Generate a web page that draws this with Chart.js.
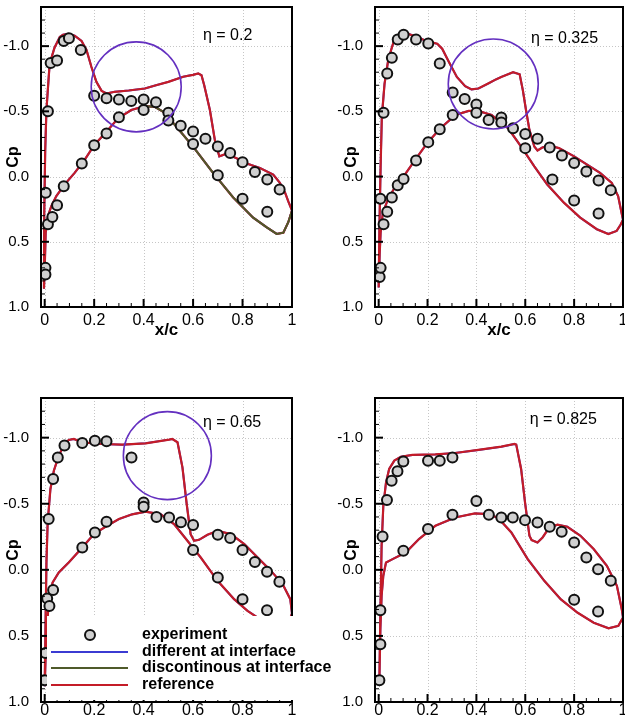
<!DOCTYPE html>
<html>
<head>
<meta charset="utf-8">
<script src="https://cdn.jsdelivr.net/npm/chart.js@4.4.0/dist/chart.umd.min.js"></script>
<style>
  html, body { margin: 0; padding: 0; background: #fff; }
  body { width: 625px; height: 717px; overflow: hidden; position: relative; }
  canvas { position: absolute; }
</style>
</head>
<body>
<canvas id="p1" width="300" height="345" style="left:0;top:0"></canvas>
<canvas id="p2" width="300" height="345" style="left:330px;top:0"></canvas>
<canvas id="p4" width="300" height="332" style="left:330px;top:385px"></canvas>
<canvas id="p3" width="340" height="332" style="left:0;top:385px"></canvas>
<script>
// axis ticks
const xTicks = [0, 0.2, 0.4, 0.6, 0.8, 1];
const xTickLabels = ['0', '0.2', '0.4', '0.6', '0.8', '1'];
const cpTicks = [-1, -0.5, 0, 0.5, 1];
const cpTickLabels = ['-1.0', '-0.5', '0.0', '0.5', '1.0'];

// eta = 0.2  [x/c, Cp]
const exp02 = [[0.003,0.70],[0.003,0.75],[0.004,0.124],[0.013,-0.50],[0.013,0.366],[0.031,0.31],[0.024,-0.87],
  [0.05,-0.89],[0.05,0.22],[0.077,0.074],[0.077,-1.04],[0.098,-1.06],[0.146,-0.97],[0.15,-0.10],[0.2,-0.62],
  [0.2,-0.24],[0.25,-0.60],[0.25,-0.33],[0.3,-0.59],[0.3,-0.455],[0.35,-0.58],[0.4,-0.59],[0.4,-0.51],
  [0.45,-0.57],[0.5,-0.49],[0.5,-0.43],[0.55,-0.39],[0.6,-0.345],[0.6,-0.25],[0.65,-0.29],[0.7,-0.23],
  [0.7,-0.01],[0.75,-0.18],[0.8,-0.11],[0.8,0.17],[0.85,-0.035],[0.9,0.023],[0.9,0.27],[0.95,0.10]];
const ref02 = [[1.0,0.26],[0.985,0.19],[0.972,0.124],[0.951,0.048],[0.924,-0.015],[0.87,-0.066],[0.817,-0.10],
  [0.776,-0.14],[0.735,-0.175],[0.706,-0.155],[0.688,-0.28],[0.668,-0.51],[0.645,-0.70],[0.634,-0.777],
  [0.621,-0.79],[0.60,-0.78],[0.56,-0.765],[0.5,-0.726],[0.45,-0.70],[0.405,-0.675],[0.34,-0.66],[0.283,-0.65],
  [0.25,-0.637],[0.23,-0.657],[0.209,-0.726],[0.189,-0.84],[0.169,-0.97],[0.149,-1.04],[0.121,-1.08],
  [0.095,-1.094],[0.074,-1.087],[0.061,-1.07],[0.04,-0.99],[0.02,-0.866],[0.0135,-0.69],[0.007,-0.51],
  [0.002,-0.2],[-0.002,0.3],[-0.003,0.86],
  [0.0,0.7],[0.004,0.43],[0.0135,0.30],[0.027,0.226],[0.047,0.15],[0.081,0.06],[0.121,-0.028],[0.162,-0.13],
  [0.2,-0.24],[0.25,-0.345],[0.297,-0.447],[0.35,-0.51],[0.405,-0.54],[0.445,-0.535],[0.479,-0.497],
  [0.52,-0.41],[0.60,-0.23],[0.68,-0.03],[0.762,0.16],[0.843,0.315],[0.898,0.39],[0.938,0.44],[0.965,0.43],
  [0.985,0.35],[1.0,0.26]];
const disc02 = [[0.405,-0.54],[0.445,-0.535],[0.479,-0.497],[0.52,-0.41],[0.60,-0.23],[0.68,-0.03],[0.762,0.16],
  [0.843,0.315],[0.898,0.39],[0.938,0.44],[0.965,0.43],[0.985,0.35],[1.0,0.26]];

// eta = 0.325
const exp0325 = [[0.004,0.77],[0.008,0.70],[0.007,0.17],[0.02,0.366],[0.02,-0.49],[0.035,0.27],[0.035,-0.79],
  [0.054,0.16],[0.054,-0.91],[0.078,0.066],[0.078,-1.05],[0.102,0.018],[0.102,-1.087],[0.153,-1.05],
  [0.153,-0.124],[0.203,-1.02],[0.203,-0.264],[0.25,-0.866],[0.25,-0.363],[0.303,-0.645],[0.303,-0.472],
  [0.352,-0.594],[0.40,-0.553],[0.40,-0.49],[0.45,-0.434],[0.502,-0.452],[0.502,-0.414],[0.55,-0.37],
  [0.60,-0.327],[0.60,-0.218],[0.65,-0.29],[0.70,-0.223],[0.711,0.023],[0.75,-0.162],[0.80,-0.104],
  [0.80,0.183],[0.85,-0.038],[0.90,0.03],[0.90,0.284],[0.95,0.104]];
const ref0325 = [[1.0,0.33],[0.994,0.277],[0.98,0.15],[0.954,0.048],[0.906,-0.028],[0.853,-0.091],[0.80,-0.155],
  [0.738,-0.218],[0.698,-0.238],[0.67,-0.223],[0.65,-0.2],[0.637,-0.23],[0.617,-0.358],[0.603,-0.51],
  [0.59,-0.663],[0.577,-0.784],[0.55,-0.80],[0.502,-0.764],[0.48,-0.745],[0.45,-0.715],[0.408,-0.675],
  [0.38,-0.668],[0.354,-0.693],[0.32,-0.764],[0.287,-0.88],[0.26,-0.98],[0.24,-1.018],[0.2,-1.036],
  [0.152,-1.074],[0.112,-1.10],[0.085,-1.094],[0.065,-1.056],[0.051,-0.97],[0.038,-0.88],[0.024,-0.71],
  [0.013,-0.46],[0.008,-0.08],[0.003,0.4],[0.0,0.85],
  [0.004,0.6],[0.008,0.43],[0.017,0.277],[0.038,0.175],[0.065,0.086],[0.098,0.01],[0.152,-0.135],[0.2,-0.26],
  [0.253,-0.37],[0.314,-0.472],[0.368,-0.503],[0.408,-0.503],[0.462,-0.472],[0.53,-0.37],[0.583,-0.23],
  [0.637,-0.078],[0.69,0.061],[0.758,0.2],[0.825,0.315],[0.893,0.404],[0.94,0.44],[0.974,0.417],[0.99,0.37],
  [1.0,0.33]];

// eta = 0.65
const exp065 = [[0.0,0.836],[0.003,0.63],[0.01,0.217],[0.019,0.273],[0.016,-0.384],[0.034,0.152],[0.034,-0.687],
  [0.053,-0.85],[0.08,-0.94],[0.152,-0.96],[0.152,-0.169],[0.203,-0.977],[0.203,-0.283],[0.25,-0.972],
  [0.25,-0.364],[0.351,-0.85],[0.40,-0.51],[0.40,-0.477],[0.452,-0.40],[0.503,-0.396],[0.551,-0.36],
  [0.60,-0.34],[0.60,-0.15],[0.70,-0.265],[0.70,0.058],[0.75,-0.24],[0.80,-0.15],[0.80,0.222],[0.85,-0.06],
  [0.899,0.015],[0.899,0.305],[0.949,0.09]];
const ref065 = [[1.0,0.33],[0.993,0.222],[0.962,0.108],[0.915,0.008],[0.861,-0.093],[0.807,-0.195],[0.753,-0.27],
  [0.699,-0.295],[0.658,-0.265],[0.624,-0.227],[0.604,-0.22],[0.59,-0.27],[0.574,-0.50],[0.557,-0.775],
  [0.537,-0.965],[0.516,-0.99],[0.503,-0.985],[0.408,-0.957],[0.314,-0.947],[0.233,-0.952],[0.152,-0.964],
  [0.118,-0.99],[0.097,-0.983],[0.077,-0.94],[0.057,-0.864],[0.037,-0.75],[0.023,-0.61],[0.012,-0.36],
  [0.007,-0.056],[0.003,0.45],[0.0,0.88],
  [0.003,0.70],[0.01,0.4],[0.019,0.197],[0.032,0.096],[0.057,0.02],[0.097,-0.055],[0.152,-0.169],[0.199,-0.27],
  [0.246,-0.326],[0.30,-0.384],[0.354,-0.42],[0.408,-0.44],[0.469,-0.42],[0.523,-0.346],[0.577,-0.22],
  [0.631,-0.093],[0.699,0.083],[0.766,0.222],[0.82,0.31],[0.867,0.369],[0.92,0.42],[0.96,0.43],[0.99,0.38],
  [1.0,0.33]];

// eta = 0.825
const exp0825 = [[0.003,0.836],[0.007,0.563],[0.007,0.305],[0.016,-0.252],[0.034,-0.528],[0.053,-0.674],
  [0.077,-0.745],[0.101,-0.82],[0.101,-0.144],[0.202,-0.826],[0.202,-0.308],[0.25,-0.826],[0.302,-0.85],
  [0.302,-0.417],[0.40,-0.52],[0.451,-0.417],[0.502,-0.396],[0.549,-0.396],[0.599,-0.376],[0.65,-0.358],
  [0.70,-0.326],[0.749,-0.288],[0.80,-0.207],[0.80,0.227],[0.85,-0.093],[0.898,-0.005],[0.898,0.316],
  [0.95,0.083]];
const ref0825 = [[1.0,0.36],[0.995,0.298],[0.975,0.121],[0.934,-0.03],[0.88,-0.157],[0.826,-0.258],[0.772,-0.326],
  [0.732,-0.341],[0.698,-0.32],[0.671,-0.245],[0.65,-0.207],[0.626,-0.225],[0.617,-0.258],[0.599,-0.51],
  [0.583,-0.763],[0.563,-0.947],[0.556,-0.952],[0.502,-0.932],[0.408,-0.907],[0.313,-0.884],[0.232,-0.873],
  [0.138,-0.869],[0.091,-0.856],[0.064,-0.826],[0.043,-0.763],[0.03,-0.66],[0.019,-0.485],[0.012,-0.18],
  [0.007,0.323],[0.003,0.83],
  [0.007,0.45],[0.012,0.197],[0.019,0.045],[0.03,-0.055],[0.057,-0.081],[0.111,-0.131],[0.165,-0.233],
  [0.232,-0.333],[0.313,-0.396],[0.394,-0.427],[0.448,-0.422],[0.489,-0.392],[0.543,-0.283],[0.61,-0.081],
  [0.678,0.083],[0.745,0.222],[0.813,0.323],[0.88,0.40],[0.941,0.442],[0.981,0.424],[1.0,0.36]];

const RED = '#c41c28', OLIVE = '#4f5a2a', BLUE = '#3b3bd2', RING = '#6430c0';
const FONT = '"Liberation Sans", Arial, Helvetica, sans-serif';
Chart.defaults.font.family = FONT;
Chart.defaults.color = '#000';

const pts = arr => arr.map(([x, y]) => ({ x, y }));

// grid, frame, inward ticks, eta label, highlight ring and legend box
const decor = {
  id: 'decor',
  beforeDatasetsDraw(chart, args, o) {
    const { ctx, chartArea: a, scales: { x, y } } = chart;
    ctx.save();
    ctx.strokeStyle = '#c6c6c6';
    ctx.lineWidth = 1;
    ctx.setLineDash([1, 2]);
    ctx.beginPath();
    xTicks.forEach(v => {
      const px = Math.round(x.getPixelForValue(v)) + 0.5;
      ctx.moveTo(px, a.top); ctx.lineTo(px, a.bottom);
    });
    cpTicks.forEach(v => {
      const py = Math.round(y.getPixelForValue(v)) + 0.5;
      ctx.moveTo(a.left, py); ctx.lineTo(a.right, py);
    });
    ctx.stroke();
    ctx.restore();
  },
  afterDatasetsDraw(chart, args, o) {
    const { ctx, chartArea: a, scales: { x, y } } = chart;
    ctx.save();
    if (o.ring) {
      ctx.strokeStyle = RING;
      ctx.lineWidth = 1.6;
      ctx.beginPath();
      ctx.arc(x.getPixelForValue(o.ring.x), y.getPixelForValue(o.ring.cp), o.ring.r, 0, Math.PI * 2);
      ctx.stroke();
    }
    // minor / major ticks, pointing into the plot
    ctx.strokeStyle = '#000';
    const tick = (x0, y0, x1, y1, w) => {
      ctx.lineWidth = w;
      ctx.beginPath(); ctx.moveTo(x0, y0); ctx.lineTo(x1, y1); ctx.stroke();
    };
    for (let i = 0; i <= 20; i++) {
      const px = x.getPixelForValue(i / 20);
      if (i % 4 === 0) tick(px, a.bottom, px, a.bottom - 8, 2);
      else tick(px, a.bottom, px, a.bottom - 4, 1);
    }
    for (let i = -13; i <= 10; i++) {
      const py = y.getPixelForValue(i / 10);
      if (i % 5 === 0) tick(a.left, py, a.left + 8, py, 2);
      else tick(a.left, py, a.left + 4, py, 1);
    }
    ctx.lineWidth = 2;
    ctx.strokeRect(a.left, a.top, a.right - a.left, a.bottom - a.top);

    ctx.fillStyle = '#000';
    ctx.font = '16px ' + FONT;
    ctx.textAlign = 'left';
    ctx.textBaseline = 'middle';
    ctx.fillText(o.eta, x.getPixelForValue(o.etaAt[0]), y.getPixelForValue(o.etaAt[1]));

    if (o.legend) {
      const L = o.legend;
      ctx.fillStyle = '#fff';
      ctx.fillRect(L.left, L.top, L.right - L.left, L.bottom - L.top);
      const rows = [L.top + 19, L.top + 36, L.top + 52, L.top + 69];
      ctx.beginPath();
      ctx.arc(L.left + 43, rows[0], 5, 0, Math.PI * 2);
      ctx.fillStyle = '#d0d0d0'; ctx.fill();
      ctx.lineWidth = 2; ctx.strokeStyle = '#111'; ctx.stroke();
      [BLUE, OLIVE, RED].forEach((c, i) => {
        ctx.strokeStyle = c;
        ctx.lineWidth = 2;
        ctx.beginPath();
        ctx.moveTo(L.left + 4, rows[i + 1]);
        ctx.lineTo(L.left + 81, rows[i + 1]);
        ctx.stroke();
      });
      ctx.fillStyle = '#000';
      ctx.font = 'bold 16px ' + FONT;
      ['experiment', 'different at interface', 'discontinous at interface', 'reference']
        .forEach((t, i) => ctx.fillText(t, L.left + 95, rows[i]));
    }
    ctx.restore();
  }
};

function drawPanel(id, p) {
  const datasets = [
    { label: 'experiment', data: pts(p.exp), showLine: false, pointRadius: 5,
      pointBackgroundColor: '#d0d0d0', pointBorderColor: '#111', pointBorderWidth: 2 }
  ];
  if (p.disc) {
    datasets.push({ label: 'discontinous at interface', data: pts(p.disc), showLine: true,
      pointRadius: 0, borderColor: OLIVE, borderWidth: 2, tension: 0 });
  }
  datasets.push(
    { label: 'reference', data: pts(p.ref), showLine: true, pointRadius: 0,
      borderColor: RED, borderWidth: 2.2, tension: 0 },
    { label: 'different at interface', data: pts(p.ref), showLine: true, pointRadius: 0,
      borderColor: BLUE, borderWidth: 2, tension: 0 }
  );

  new Chart(document.getElementById(id), {
    type: 'scatter',
    data: { datasets },
    options: {
      responsive: false,
      animation: false,
      devicePixelRatio: 1,
      layout: { padding: { top: p.padTop, right: p.padRight, left: 0, bottom: 0 } },
      plugins: {
        legend: { display: false },
        tooltip: { enabled: false },
        decor: { eta: p.eta, etaAt: p.etaAt, ring: p.ring || null, legend: p.legend || null }
      },
      scales: {
        x: {
          type: 'linear', min: -0.015, max: 1,
          grid: { display: false }, border: { display: false },
          afterBuildTicks: s => { s.ticks = xTicks.map(v => ({ value: v })); },
          afterFit: s => { s.height = p.xHeight; s.paddingLeft = 0; s.paddingRight = 0; },
          ticks: { autoSkip: false, maxRotation: 0, padding: p.xTickPad, font: { size: 16 },
            callback: (v, i) => xTickLabels[i] },
          title: { display: p.xTitle, text: 'x/c', font: { size: 17, weight: 'bold' },
            padding: { top: 0, bottom: 4 } }
        },
        y: {
          type: 'linear', min: -1.3, max: 1.0, reverse: true,
          grid: { display: false }, border: { display: false },
          afterBuildTicks: s => { s.ticks = cpTicks.map(v => ({ value: v })); },
          afterFit: s => { s.width = p.yWidth; s.paddingTop = 0; s.paddingBottom = 0; },
          ticks: { autoSkip: false, padding: 4, font: { size: 15 },
            callback: (v, i) => cpTickLabels[i] },
          title: { display: true, text: 'Cp', font: { size: 16, weight: 'bold' },
            padding: { top: p.yTitlePad, bottom: 0 } }
        }
      }
    },
    plugins: [decor]
  });
}

drawPanel('p1', { exp: exp02, ref: ref02, disc: disc02, eta: 'η = 0.2', etaAt: [0.64, -1.08],
  ring: { x: 0.37, cp: -0.688, r: 45 }, padTop: 5, padRight: 8, yWidth: 41, yTitlePad: 4,
  xHeight: 38, xTitle: true, xTickPad: -4 });
drawPanel('p2', { exp: exp0325, ref: ref0325, eta: 'η = 0.325', etaAt: [0.623, -1.06],
  ring: { x: 0.469, cp: -0.71, r: 45 }, padTop: 5, padRight: 4, yWidth: 45, yTitlePad: 12,
  xHeight: 38, xTitle: true, xTickPad: -4 });
drawPanel('p3', { exp: exp065, ref: ref065, eta: 'η = 0.65', etaAt: [0.64, -1.116],
  ring: { x: 0.496, cp: -0.864, r: 44 }, padTop: 13, padRight: 48, yWidth: 41, yTitlePad: 4,
  xHeight: 15, xTitle: false, xTickPad: -9,
  legend: { left: 47, top: 231, right: 336, bottom: 315 } });
drawPanel('p4', { exp: exp0825, ref: ref0825, eta: 'η = 0.825', etaAt: [0.618, -1.136],
  padTop: 13, padRight: 4, yWidth: 45, yTitlePad: 12, xHeight: 15, xTitle: false, xTickPad: -9 });
</script>
</body>
</html>
